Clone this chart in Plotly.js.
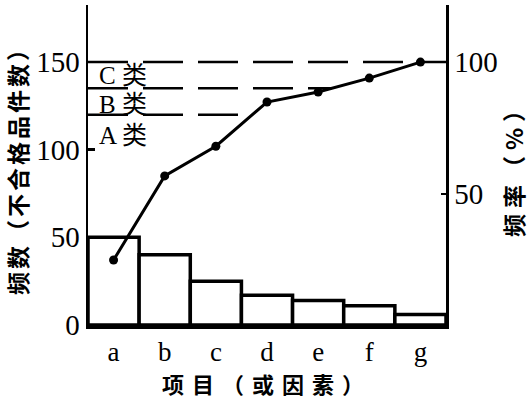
<!DOCTYPE html>
<html>
<head>
<meta charset="utf-8">
<script src="https://cdn.plot.ly/plotly-3.0.1.min.js"></script>
<style>html,body{margin:0;padding:0;background:#fff;}#chart{width:531px;height:399px;}</style>
</head>
<body>
<div id="chart"></div>
<script>
// ---- data ----
const categories = ['a', 'b', 'c', 'd', 'e', 'f', 'g'];
const frequency = [50, 40, 25, 17, 14, 11, 6];                 // 频数 (left axis)
const cumulativePct = [24.7, 56.7, 68, 84.8, 88.6, 93.9, 100]; // 频率 % (right axis)
const classLevels = [80, 90, 100];                              // A/B/C boundaries (%)
const classLabels = ['A 类', 'B 类', 'C 类'];
const classLabelPct = [72, 84, 95];
const leftTicks = [0, 50, 100, 150];
const rightTicks = [50, 100];

const serif = 'Liberation Serif, Times New Roman, serif';
const cjk = 'Noto Sans CJK SC, sans-serif';

// where the cumulative curve reaches a level (in category-index units)
function crossing(level) {
  for (let i = 0; i < cumulativePct.length - 1; i++) {
    if (cumulativePct[i] < level && cumulativePct[i + 1] >= level) {
      return i + (level - cumulativePct[i]) / (cumulativePct[i + 1] - cumulativePct[i]);
    }
  }
  return categories.length - 0.5;
}

const shapes = classLevels.map(lv => ({
  type: 'line', xref: 'x', yref: 'y2',
  x0: -0.5, x1: lv >= 100 ? categories.length - 0.5 : crossing(lv),
  y0: lv, y1: lv,
  line: {color: '#000', width: 2.5, dash: '40px,15px'}
}));

const annotations = classLabels.map((t, i) => ({
  text: t, xref: 'paper', yref: 'y2', x: 0.026, y: classLabelPct[i],
  xanchor: 'left', yanchor: 'middle', showarrow: false,
  font: {family: 'Liberation Serif, Noto Sans CJK SC', size: 25, color: '#000'}
}));

const traces = [
  {
    type: 'bar', x: categories, y: frequency, width: 1,
    marker: {color: '#fff', line: {color: '#000', width: 3.5}},
    hoverinfo: 'skip'
  },
  {
    type: 'scatter', mode: 'lines+markers', x: categories, y: cumulativePct, yaxis: 'y2',
    line: {color: '#000', width: 3},
    marker: {color: '#000', size: 9},
    cliponaxis: false
  }
];

const layout = {
  width: 531, height: 399,
  margin: {l: 88, r: 85, t: 5, b: 74},
  paper_bgcolor: '#fff', plot_bgcolor: '#fff',
  showlegend: false,
  xaxis: {
    type: 'category', range: [-0.5, 6.5],
    showline: true, linecolor: '#000', linewidth: 3.5,
    ticks: '', showgrid: false, zeroline: false,
    tickfont: {family: serif, size: 27, color: '#000'},
    title: {text: '项目（或因素）', font: {family: cjk, size: 22, weight: 'bold', color: '#000'}, standoff: 6}
  },
  yaxis: {
    range: [0, 182.5], tickvals: leftTicks,
    showline: true, linecolor: '#000', linewidth: 2.5,
    ticks: 'inside', ticklen: 7, tickwidth: 2.5, tickcolor: '#000',
    showgrid: false, zeroline: false,
    tickfont: {family: serif, size: 29, color: '#000'},
    title: {text: '频数（不合格品件数）', font: {family: cjk, size: 23, weight: 'bold', color: '#000'}, standoff: 2}
  },
  yaxis2: {
    overlaying: 'y', side: 'right',
    range: [0, 121.7], tickvals: rightTicks,
    showline: true, linecolor: '#000', linewidth: 2.5,
    ticks: 'inside', ticklen: 5, tickwidth: 2, tickcolor: '#000',
    showgrid: false, zeroline: false,
    tickfont: {family: serif, size: 29, color: '#000'},
    title: {text: '频率（%）', font: {family: cjk, size: 23, weight: 'bold', color: '#000'}, standoff: 10}
  },
  shapes: shapes,
  annotations: annotations,
  bargap: 0
};

Plotly.newPlot('chart', traces, layout, {staticPlot: true, displayModeBar: false}).then(() => {
  const spacing = [['.g-xtitle text', '8px'], ['.g-ytitle text', '3px'], ['.g-y2title text', '6px']];
  spacing.forEach(([sel, ls]) => {
    document.querySelectorAll(sel).forEach(el => { el.style.letterSpacing = ls; });
  });
});
</script>
</body>
</html>
